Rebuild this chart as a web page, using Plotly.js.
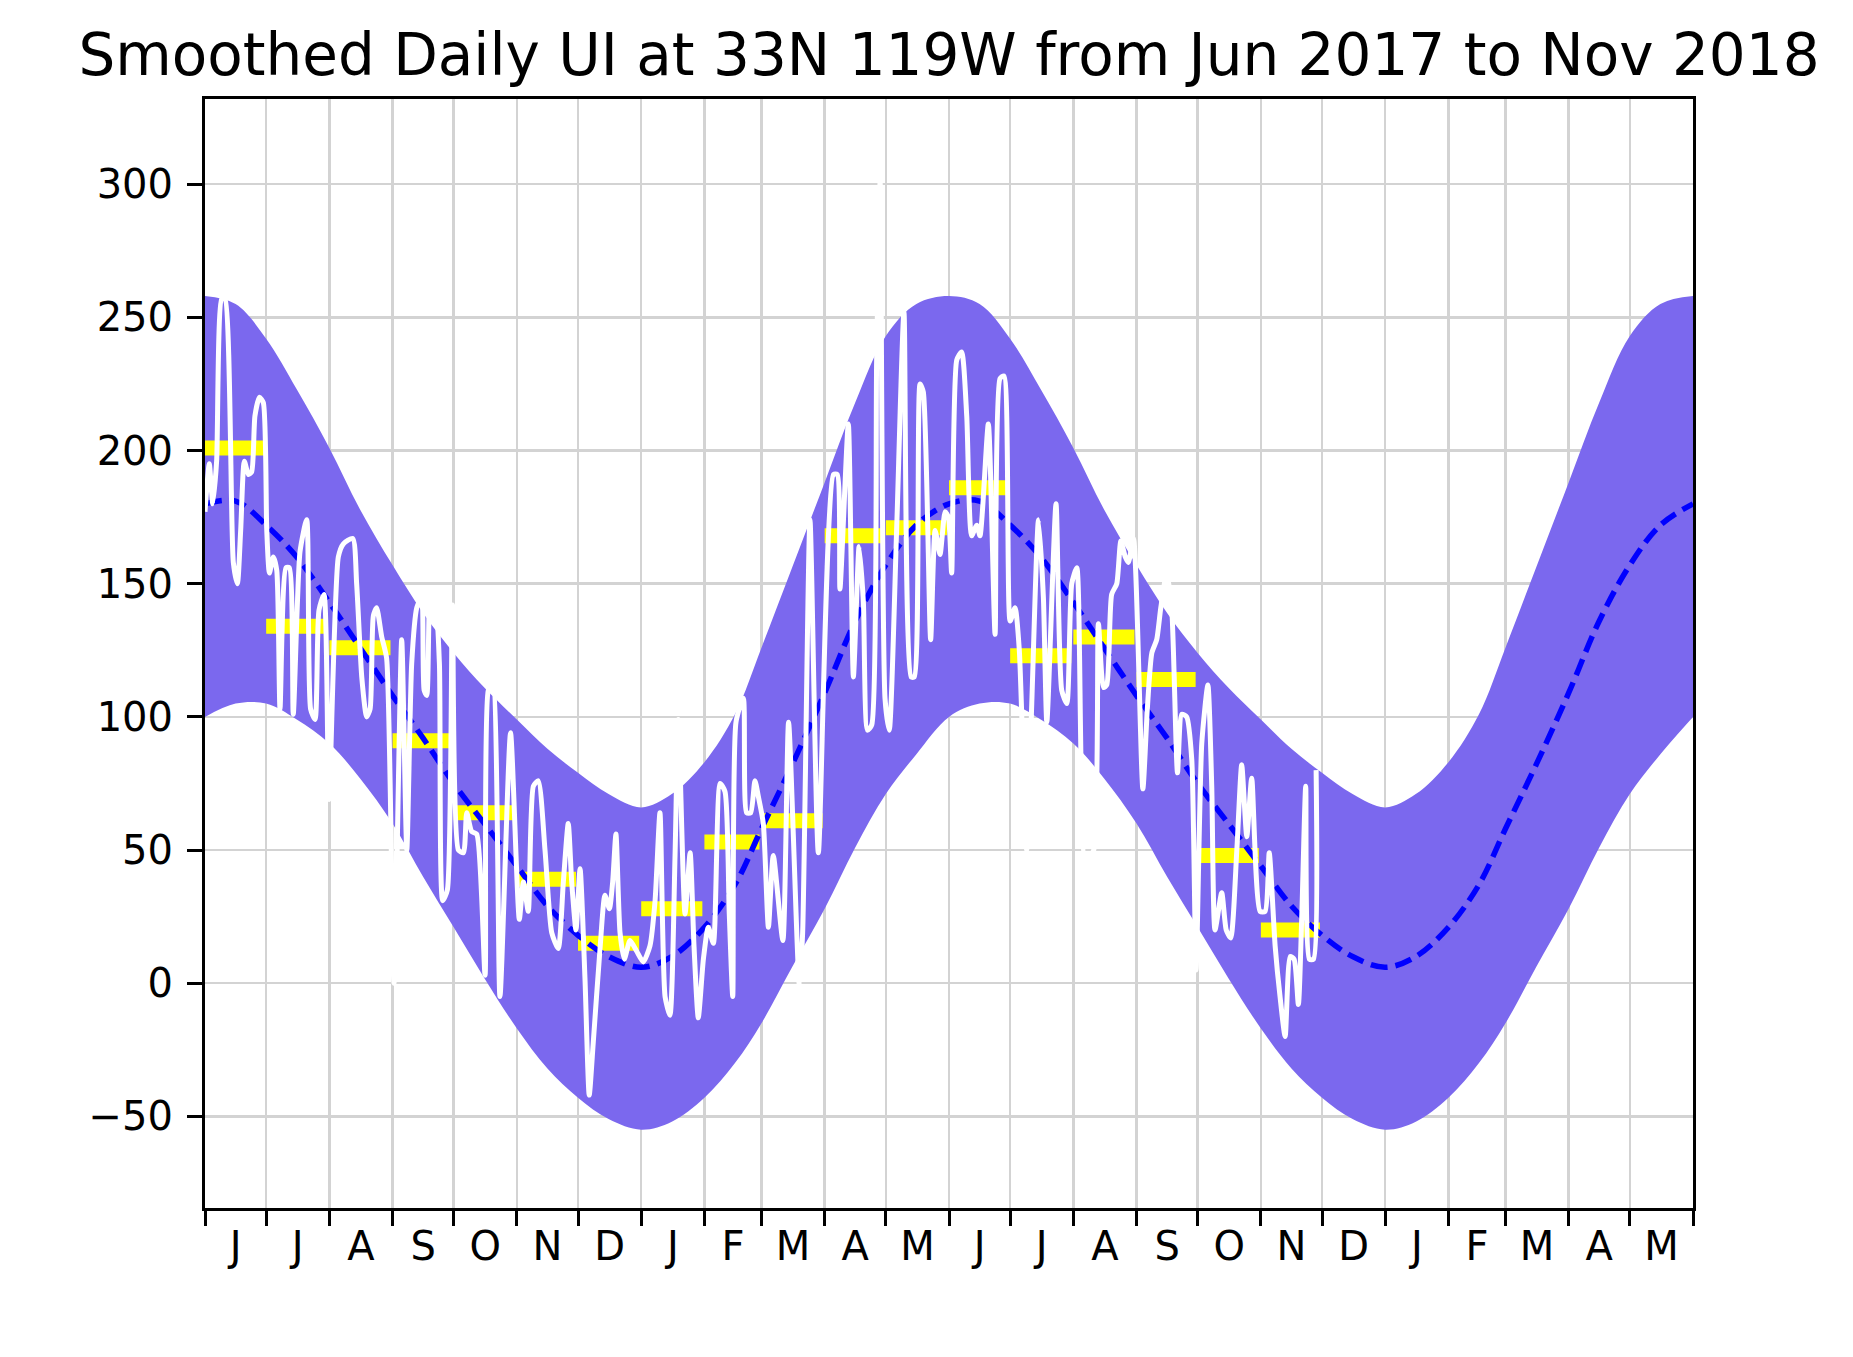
<!DOCTYPE html>
<html>
<head>
<meta charset="utf-8">
<script src="https://cdn.plot.ly/plotly-3.0.1.min.js"></script>
<style>
  html, body { margin: 0; padding: 0; background: #fff; }
  #chart { width: 1853px; height: 1357px; }
</style>
</head>
<body>
<div id="chart"></div>
<script>
// climatology, 1st and 16th of each month (Jun..May)
var climDates = ['06-01','06-16','07-01','07-16','08-01','08-16','09-01','09-16',
                 '10-01','10-16','11-01','11-16','12-01','12-16','01-01','01-16',
                 '02-01','02-16','03-01','03-16','04-01','04-16','05-01','05-16'];
var climUpper = [258, 255, 242, 223, 201, 178, 157, 139,
                 124, 111, 99, 88, 79, 71, 66, 71,
                 83, 101, 126, 156, 188, 218, 243, 255];
var climMean  = [180, 181, 172, 160, 143, 126, 108, 92,
                 75, 60, 44, 29, 18, 10, 6, 10,
                 21, 37, 58, 82, 109, 136, 157, 172];
var climLower = [100, 105, 105, 99, 90, 77, 60, 40,
                 21, 2, -17, -32, -43, -51, -55, -52,
                 -43, -30, -15, 6, 28, 51, 71, 86];

// smoothed daily UI (days after 1 Jun 2017, value)
var uiDay = [0, 2.1, 3.8, 5.7, 8.2, 9.8, 13.9, 15.9, 17.5, 19.3, 21.3, 22.9, 24.5, 26.7, 28.6,
  30.3, 31.6, 33.5, 35.2, 36.8, 39.7, 41.4, 43.3, 46.6, 49.9, 51.8, 54.0, 55.9, 58.4, 60.8,
  65.4, 67.9, 72.5, 74.4, 76.9, 79.3, 81.0, 82.6, 84.2, 86.7, 89.1, 92.7, 96.5, 99.0, 101.4,
  103.9, 106.3, 107.5, 108.8, 110.7, 112.9, 115.0, 116.6, 118.9, 121.4, 124.3, 126.8, 128.4,
  130.8, 133.3, 137.4, 139.0, 141.1, 144.7, 149.9, 154.2, 156.2, 158.6, 161.1, 163.5, 166.8,
  170.1, 173.3, 175.8, 178.2, 179.9, 182.0, 184.0, 186.4, 188.5, 190.5, 193.8, 196.2, 198.4,
  200.0, 201.6, 203.6, 205.7, 208.5, 211.8, 215.0, 218.3, 220.8, 223.2, 225.7, 228.1, 230.6,
  232.2, 235.5, 238.0, 239.9, 242.0, 244.5, 246.9, 249.4, 252.7, 255.1, 257.2, 258.9, 260.5,
  264.1, 265.7, 267.7, 269.8, 271.5, 273.9, 276.4, 278.8, 283.5, 286.3, 291.6, 293.2, 296.8,
  300.9, 308.3, 310.2, 311.5, 315.6, 318.1, 320.9, 323.0, 325.0, 327.1, 329.5, 331.2, 333.6,
  335.7, 339.3, 342.9, 346.4, 348.0, 350.8, 352.4, 356.0, 358.2, 360.6, 363.1, 364.7, 366.3,
  368.8, 371.2, 373.7, 376.1, 378.6, 380.2, 384.3, 387.6, 390.0, 392.0, 395.0, 397.4, 399.5,
  403.1, 405.6, 408.9, 411.3, 413.0, 417.5, 420.3, 422.8, 425.2, 427.7, 432.0, 436.0, 438.3,
  440.8, 442.4, 444.8, 447.3, 449.3, 451.5, 453.0, 455.5, 460.1, 462.3, 464.5, 466.9, 468.9,
  471.8, 474.3, 477.1, 479.2, 481.6, 484.1, 486.2, 489.0, 492.0, 493.9, 495.5, 498.8, 501.0,
  503.2, 506.2, 508.6, 511.1, 513.5, 517.6, 520.1, 522.1, 525.0, 527.4, 529.9, 532.4, 534.3,
  536.4, 538.1, 540.0, 541.8, 543.8, 545.1];
var uiVal = [177, 195, 180, 196, 257, 257, 158, 150, 170, 196, 191, 192, 213, 220, 218,
  170, 154, 160, 155, 103, 156, 156, 101, 162, 174, 103, 99, 140, 146, 69,
  160, 165, 167, 150, 115, 100, 103, 138, 141, 130, 122, 0, 129, 50, 120,
  141, 145, 110, 108, 148, 145, 120, 31, 35, 142, 50, 49, 64,
  57, 56, 3, 110, 112, -5, 94, 24, 38, 27, 74, 76, 50,
  19, 13, 38, 60, 38, 20, 43, 2, -42, -22, 13, 33, 28,
  38, 56, 19, 9, 16, 12, 8, 14, 31, 64, -5, -12, 48,
  99, 26, 49, 14, -13, 9, 21, 15, 75, 72, 26, -5, 98,
  107, 64, 64, 76, 70, 60, 21, 48, 16, 98, -1, 19, 174,
  49, 191, 191, 148, 210, 115, 164, 143, 95, 97, 234, 301, 107,
  95, 170, 252, 115, 115, 225, 222, 129, 170, 161, 177, 175, 154,
  234, 237, 213, 168, 172, 168, 210, 131, 227, 228, 136, 141, 125,
  50, 105, 174, 145, 98, 180, 110, 105, 150, 156, 45, 50, 135,
  111, 112, 146, 150, 166, 160, 158, 167, 73, 103, 124, 129, 141,
  154, 140, 79, 101, 100, 84, 5, 90, 112, 74, 20, 34, 20,
  17, 50, 82, 55, 77, 27, 27, 49, 14, -5, -20, 10, 9,
  -8, 26, 74, 9, 9, 80];

// monthly means (yellow bars)
var meanMonths = ['2017-06','2017-07','2017-08','2017-09','2017-10','2017-11','2017-12',
                  '2018-01','2018-02','2018-03','2018-04','2018-05','2018-06','2018-07',
                  '2018-08','2018-09','2018-10','2018-11'];
var meanVals = [201, 134, 126, 91, 64, 39, 15, 28, 53, 61, 168, 171, 186, 123, 130, 114, 48, 20];

// x tick letters, Jun 2017 .. May 2019
var tickLetters = ['J','J','A','S','O','N','D','J','F','M','A','M',
                   'J','J','A','S','O','N','D','J','F','M','A','M'];

var T0 = Date.UTC(2017, 5, 1);
var DAY = 86400000;
function iso(ms) { return new Date(ms).toISOString().slice(0, 19).replace('T', ' '); }

// two years of climatology plus the closing point
var cx = [], cu = [], cm = [], cl = [];
[0, 1].forEach(function (off) {
  climDates.forEach(function (md, i) {
    var m = +md.slice(0, 2);
    var yr = (m >= 6 ? 2017 : 2018) + off;
    cx.push(yr + '-' + md);
    cu.push(climUpper[i]); cm.push(climMean[i]); cl.push(climLower[i]);
  });
});
cx.push('2019-06-01'); cu.push(climUpper[0]); cm.push(climMean[0]); cl.push(climLower[0]);

var ux = uiDay.map(function (d) { return iso(T0 + d * DAY); });

// yellow bars: first to last day of each month
var bx = [], by = [];
meanMonths.forEach(function (ym, i) {
  var y = +ym.slice(0, 4), m = +ym.slice(5, 7) - 1;
  bx.push(iso(Date.UTC(y, m, 1)), iso(Date.UTC(y, m + 1, 0)), null);
  by.push(meanVals[i], meanVals[i], null);
});

// month starts for ticks/grid, mid months for letters
var monthStarts = [], monthMids = [];
for (var k = 0; k <= tickLetters.length; k++) {
  var a = Date.UTC(2017, 5 + k, 1);
  monthStarts.push(iso(a));
  if (k < tickLetters.length) {
    var b = Date.UTC(2017, 6 + k, 1);
    monthMids.push(iso((a + b) / 2));
  }
}

var font = 'DejaVu Sans, sans-serif';

var data = [
  { x: cx, y: cl, type: 'scatter', mode: 'lines',
    line: { width: 0, shape: 'spline', smoothing: 1 }, hoverinfo: 'skip', showlegend: false },
  { x: cx, y: cu, type: 'scatter', mode: 'lines', fill: 'tonexty', fillcolor: '#7B68EE',
    line: { width: 0, shape: 'spline', smoothing: 1 }, hoverinfo: 'skip', showlegend: false },
  { x: bx, y: by, type: 'scatter', mode: 'lines', connectgaps: false,
    line: { color: '#ffff00', width: 15 }, showlegend: false },
  { x: cx, y: cm, type: 'scatter', mode: 'lines',
    line: { color: '#0000ff', width: 5.5, dash: '17px,8px', shape: 'spline', smoothing: 1 },
    showlegend: false },
  { x: ux, y: uiVal, type: 'scatter', mode: 'lines',
    line: { color: '#ffffff', width: 5, shape: 'spline', smoothing: 0.6 }, showlegend: false }
];

var layout = {
  width: 1853, height: 1357,
  margin: { l: 205, r: 160, t: 99, b: 149 },
  paper_bgcolor: '#ffffff', plot_bgcolor: '#ffffff',
  font: { family: font, size: 40, color: '#000' },
  title: {
    text: 'Smoothed Daily UI at 33N 119W from Jun 2017 to Nov 2018',
    font: { family: font, size: 58, color: '#000' },
    x: 0.5, xref: 'paper', xanchor: 'center',
    y: 0.960, yref: 'container', yanchor: 'middle'
  },
  xaxis: {
    type: 'date', range: ['2017-06-01', '2019-06-01'],
    tickmode: 'array', tickvals: monthMids, ticktext: tickLetters,
    ticks: 'outside', ticklen: 1, tickwidth: 1, tickcolor: 'rgba(0,0,0,0)',
    tickfont: { family: font, size: 40, color: '#000' },
    showgrid: false, zeroline: false,
    showline: true, linecolor: '#000', linewidth: 3, mirror: true,
    minor: { tickmode: 'array', tickvals: monthStarts, ticks: 'outside', ticklen: 15,
             tickwidth: 3, tickcolor: '#000', showgrid: true, gridcolor: '#d3d3d3', gridwidth: 2.5 }
  },
  yaxis: {
    range: [-84.4, 332], tickmode: 'linear', tick0: 0, dtick: 50,
    ticks: 'outside', ticklen: 15, tickwidth: 3, tickcolor: '#000',
    ticklabelstandoff: 6,
    tickfont: { family: font, size: 40, color: '#000' },
    showgrid: true, gridcolor: '#d3d3d3', gridwidth: 2.5, zeroline: false,
    showline: true, linecolor: '#000', linewidth: 3, mirror: true
  }
};

Plotly.newPlot('chart', data, layout, { displayModeBar: false, staticPlot: true });
</script>
</body>
</html>
